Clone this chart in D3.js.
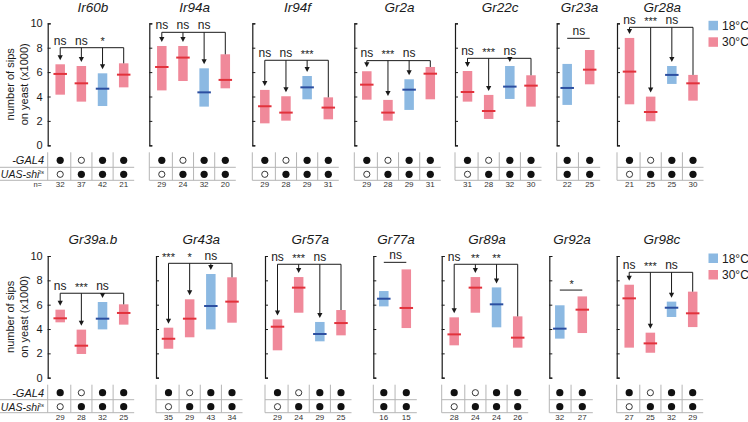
<!DOCTYPE html>
<html><head><meta charset="utf-8">
<script src="https://cdn.jsdelivr.net/npm/d3@7"></script>
<style>body{margin:0;background:#fff}svg{display:block;font-family:"Liberation Sans",Arial,sans-serif}</style>
</head><body><svg id="c" width="748" height="422"></svg>
<script>
// ---- data ----
const panelNames = ["Ir60b","Ir94a","Ir94f","Gr2a","Gr22c","Gr23a","Gr28a",
                    "Gr39a.b","Gr43a","Gr57a","Gr77a","Gr89a","Gr92a","Gr98c"];
const temps = [
  ["30","30","18","30"],["30","30","18","30"],["30","30","18","30"],["30","30","18","30"],
  ["30","30","18","30"],["18","30"],["30","30","18","30"],
  ["30","30","18","30"],["30","30","18","30"],["30","30","18","30"],["18","30"],
  ["30","30","18","30"],["18","30"],["30","30","18","30"]];
const medians = [
  [5.85,5.08,4.64,5.79],[6.42,7.19,4.34,5.36],[3.2,2.68,4.75,3.09],[4.97,2.68,4.56,5.87],
  [4.37,2.81,4.81,4.89],[4.7,6.2],[6.04,2.73,5.77,5.08],
  [4.88,2.63,4.85,5.32],[3.2,4.85,5.89,6.25],[4.19,7.4,3.59,4.49],[6.49,5.73],
  [3.56,7.4,6.03,3.29],[4.03,5.59],[6.52,2.82,5.75,5.29]];
const lows = [
  [4.15,3.58,3.22,4.75],[4.5,5.27,3.17,4.67],[1.8,2.02,3.77,2.13],[3.74,2.02,2.9,3.77],
  [3.58,2.16,3.8,3.17],[3.31,5.0],[3.36,1.97,5.03,3.66],
  [4.55,1.95,3.97,4.36],[2.38,3.32,3.97,4.52],[2.25,5.34,2.99,3.48],[5.86,4.08],
  [2.66,5.34,4.14,2.47],[3.21,3.67],[2.47,2.05,4.99,4.16]];
const highs = [
  [6.64,6.5,5.9,6.72],[8.14,8.14,6.31,7.46],[4.54,4.02,5.68,3.93],[6.07,3.72,5.41,6.42],
  [6.09,4.13,6.5,5.74],[6.67,7.81],[8.8,3.99,6.5,5.77],
  [5.59,3.95,6.22,6.03],[4.11,6.44,8.52,8.25],[4.79,8.27,4.58,5.56],[7.12,8.9],
  [4.96,8.27,7.42,5.04],[5.95,6.68],[7.64,3.7,6.25,7.07]];
const sigLabels = [
  ["ns","ns","*"],["ns","ns","ns"],["ns","ns","***"],["ns","***","ns"],
  ["ns","***","ns"],["ns"],["ns","***","ns"],
  ["ns","***","ns"],["***","*","ns"],["ns","***","ns"],["ns"],
  ["ns","**","**"],["*"],["ns","***","ns"]];
const bracketLevel = [8.0,9.26,6.97,6.94,7.13,8.77,9.67, 6.94,9.4,9.32,9.48,9.32,7.2,8.66];
const gal4 = [[1,0,1,1],[1,0,1,1],[1,0,1,1],[1,0,1,1],[1,0,1,1],[1,1],[1,0,1,1],
              [1,0,1,1],[1,0,1,1],[1,0,1,1],[1,1],[1,0,1,1],[1,1],[1,0,1,1]];
const uas  = [[0,1,1,1],[0,1,1,1],[0,1,1,1],[0,1,1,1],[0,1,1,1],[1,1],[0,1,1,1],
              [0,1,1,1],[0,1,1,1],[0,1,1,1],[1,1],[0,1,1,1],[1,1],[0,1,1,1]];
const nCounts = [
  [32,37,42,21],[29,24,32,20],[29,28,29,31],[29,28,29,31],[31,28,32,30],[22,25],[21,25,25,30],
  [29,28,32,25],[35,29,43,34],[29,24,29,25],[16,15],[28,24,24,26],[32,27],[27,25,32,29]];
const tickValues = [0,2,4,6,8,10];
const legendItems = ["18°C","30°C"];

// ---- layout ----
const panelAxisX = [47.7,149.3,252.3,354.3,455,556.7,617, 47.7,156,265,373.3,441.7,549.3,616.7];
const rowTop = [23.3,256], rowZero = [145.3,377.7];
const fillCol = {"18":"#8cb9e2","30":"#f0899a"};
const medCol = {"18":"#2c4fa0","30":"#e2323c"};
const ink = "#1a1a1a", gridCol = "#b5b5b5";

const svg = d3.select("#c");

panelNames.forEach((name,i)=>{
  const row = i<7?0:1;
  const first = (i===0||i===7);
  const ax = panelAxisX[i];
  const k = medians[i].length;
  const idx = d3.range(k);
  const x = d3.scalePoint().domain(idx).range(k===4?[ax+12.5,ax+76]:[ax+10.5,ax+33]);
  const y = d3.scaleLinear().domain([0,10]).range([rowZero[row],rowTop[row]]);
  const g = svg.append("g");

  // title
  g.append("text").attr("x",(x(0)+x(k-1))/2+1).attr("y",rowTop[row]-11.8)
    .attr("text-anchor","middle").attr("font-size",13.5).attr("font-style","italic")
    .attr("fill",ink).text(name);

  // axis
  const axis = d3.axisLeft(y).tickValues(tickValues).tickSizeInner(-3).tickSizeOuter(-3).tickPadding(5)
    .tickFormat(first? d3.format("d") : ()=>"");
  const ag = g.append("g").attr("transform",`translate(${ax},0)`).call(axis);
  ag.select(".domain").attr("stroke",ink).attr("stroke-width",1.2);
  ag.selectAll(".tick line").attr("stroke",ink).attr("stroke-width",1);
  ag.selectAll(".tick text").attr("font-size",11).attr("fill",ink).attr("font-family","Liberation Sans, Arial, sans-serif");

  // y label
  if(first){
    const cy = (rowTop[row]+rowZero[row])/2;
    const yl = g.append("text").attr("transform",`translate(14,${cy}) rotate(-90)`)
      .attr("text-anchor","middle").attr("font-size",11).attr("fill",ink);
    yl.append("tspan").attr("x",0).attr("y",0).text("number of sips");
    yl.append("tspan").attr("x",0).attr("y",14).text("on yeast (x1000)");
  }

  // bars
  const bw = 9.5, mw = 13.5;
  g.selectAll("rect.bar").data(idx).join("rect").attr("class","bar")
    .attr("x",j=>x(j)-bw/2).attr("width",bw)
    .attr("y",j=>y(highs[i][j])).attr("height",j=>y(lows[i][j])-y(highs[i][j]))
    .attr("fill",j=>fillCol[temps[i][j]]);
  g.selectAll("line.med").data(idx).join("line").attr("class","med")
    .attr("x1",j=>x(j)-mw/2).attr("x2",j=>x(j)+mw/2)
    .attr("y1",j=>y(medians[i][j])).attr("y2",j=>y(medians[i][j]))
    .attr("stroke",j=>medCol[temps[i][j]]).attr("stroke-width",2);

  // significance
  const ly = y(bracketLevel[i]);
  const sigText = (tx,t)=>{
    const star = t.indexOf("*")>=0;
    g.append("text").attr("x",tx).attr("y",star? ly-2.5 : ly-3.2)
      .attr("text-anchor","middle").attr("font-size",star?11:12).attr("fill",ink).text(t);
  };
  if(k===4){
    g.append("line").attr("x1",x(0)).attr("x2",x(3)).attr("y1",ly).attr("y2",ly)
      .attr("stroke",ink).attr("stroke-width",1);
    g.append("line").attr("x1",x(3)).attr("x2",x(3)).attr("y1",ly).attr("y2",y(highs[i][3]))
      .attr("stroke",ink).attr("stroke-width",1);
    [0,1,2].forEach(j=>{
      const tip = y(highs[i][j])-4;
      g.append("line").attr("x1",x(j)).attr("x2",x(j)).attr("y1",ly).attr("y2",tip-4)
        .attr("stroke",ink).attr("stroke-width",1);
      g.append("path").attr("d",`M${x(j)-2.6},${tip-5}L${x(j)+2.6},${tip-5}L${x(j)},${tip}Z`).attr("fill",ink);
      sigText(x(j),sigLabels[i][j]);
    });
  } else {
    g.append("line").attr("x1",x(0)).attr("x2",x(1)).attr("y1",ly).attr("y2",ly)
      .attr("stroke",ink).attr("stroke-width",1);
    sigText((x(0)+x(1))/2+0.5,sigLabels[i][0]);
  }

  // genotype table
  const z = rowZero[row];
  const bounds = [ax];
  for(let j=0;j<k-1;j++) bounds.push((x(j)+x(j+1))/2);
  const endX = x(k-1)+10.5;
  const leftX = first?0:ax;
  bounds.forEach(b=>{
    g.append("line").attr("x1",b).attr("x2",b).attr("y1",z+7).attr("y2",z+35)
      .attr("stroke",gridCol).attr("stroke-width",1);
  });
  [z+22,z+35].forEach(hy=>{
    g.append("line").attr("x1",leftX).attr("x2",endX).attr("y1",hy).attr("y2",hy)
      .attr("stroke",gridCol).attr("stroke-width",1);
  });
  [[gal4[i],z+15],[uas[i],z+29]].forEach(([vals,cy])=>{
    idx.forEach(j=>{
      const c = g.append("circle").attr("cx",x(j)).attr("cy",cy);
      if(vals[j]) c.attr("r",3.6).attr("fill","#111");
      else c.attr("r",3.1).attr("fill","#fff").attr("stroke","#222").attr("stroke-width",0.9);
    });
  });
  g.selectAll("text.n").data(idx).join("text").attr("class","n")
    .attr("x",j=>x(j)).attr("y",z+42).attr("text-anchor","middle")
    .attr("font-size",8).attr("fill","#333").text(j=>nCounts[i][j]);
  if(first){
    g.append("text").attr("x",44).attr("y",z+19).attr("text-anchor","end")
      .attr("font-size",11).attr("font-style","italic").attr("fill",ink).text("-GAL4");
    const t = g.append("text").attr("x",44).attr("y",z+33).attr("text-anchor","end")
      .attr("font-size",10.5).attr("font-style","italic").attr("fill",ink);
    t.append("tspan").text("UAS-shi");
    t.append("tspan").attr("font-size",6).attr("dy",-4).text("ts");
    if(row===0){
      g.append("text").attr("x",42).attr("y",z+42).attr("text-anchor","end")
        .attr("font-size",7.5).attr("fill","#333").text("n=");
    }
  }
});

// legends
[0,1].forEach(row=>{
  const top = rowTop[row];
  const lg = svg.append("g");
  legendItems.forEach((lab,j)=>{
    const key = lab.slice(0,2);
    lg.append("rect").attr("x",708.5).attr("y",top-2.5+j*16.5).attr("width",9.5).attr("height",9.5)
      .attr("fill",fillCol[key]);
    lg.append("text").attr("x",722).attr("y",top+6.5+j*16.5).attr("font-size",12)
      .attr("fill",ink).text(lab);
  });
});
</script></body></html>
